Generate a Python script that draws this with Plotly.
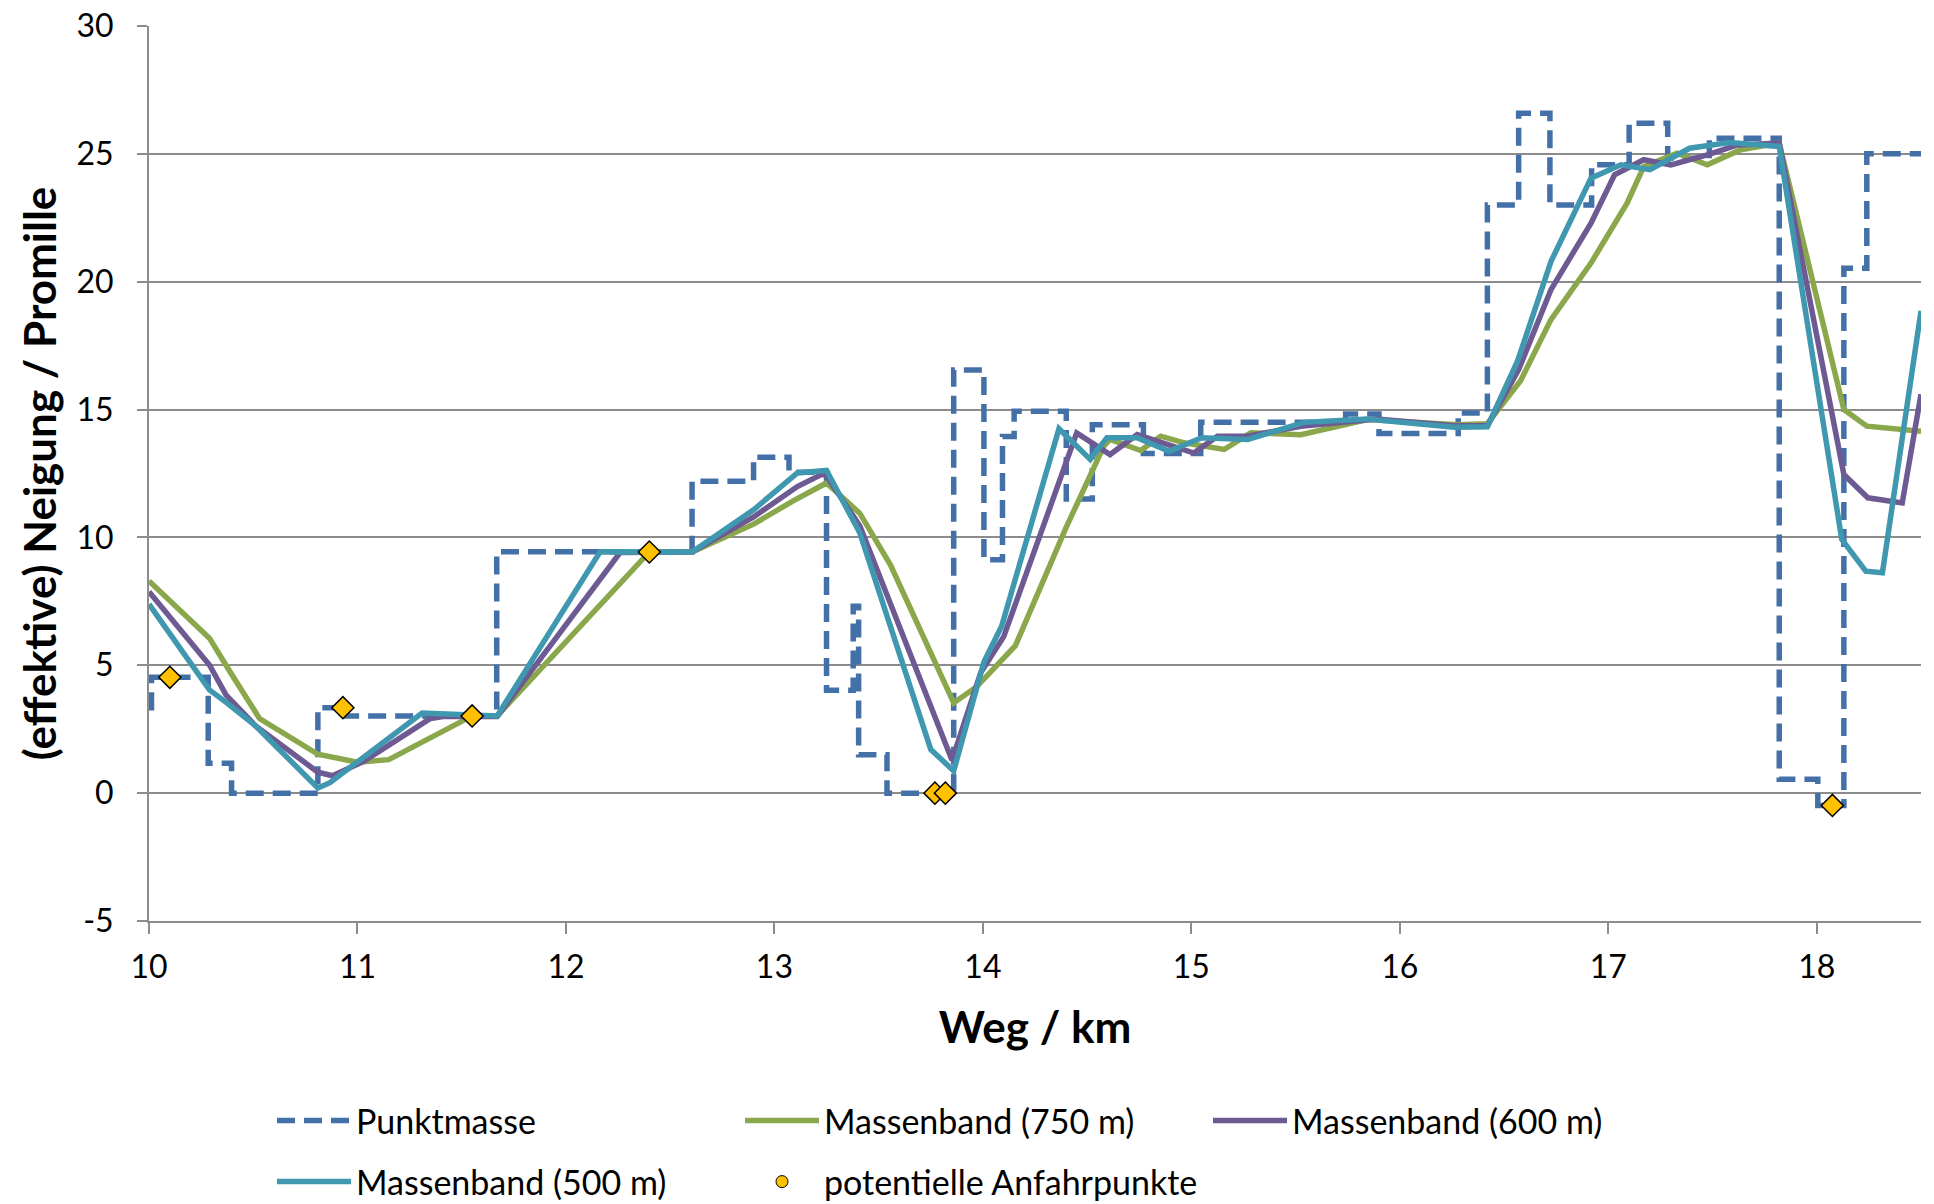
import plotly.graph_objects as go

# ---- Punktmasse (step profile): change points, value holds until next x ----
pm_x = [10.0, 10.012, 10.284, 10.396, 10.81, 10.948, 11.668, 12.605, 12.90, 13.07,
        13.25, 13.378, 13.404, 13.54, 13.86, 14.005, 14.094, 14.15, 14.40, 14.525,
        14.77, 15.045, 15.74, 15.90, 16.28, 16.42, 16.57, 16.72, 16.92, 17.10,
        17.285, 17.485, 17.82, 18.005, 18.13, 18.24, 18.5]
pm_y = [3.34, 4.53, 1.17, 0.0, 3.34, 3.02, 9.44, 12.2, 13.14, 12.55,
        4.02, 7.31, 1.5, 0.0, 16.55, 9.13, 13.95, 14.93, 11.5, 14.41,
        13.28, 14.5, 14.83, 14.06, 14.87, 23.0, 26.59, 23.0, 24.57, 26.2,
        24.83, 25.61, 0.54, -0.48, 20.53, 25.0, 25.0]

# ---- Massenband (750 m) ----
mb750_x = [10.0, 10.29, 10.39, 10.53, 10.81, 11.0, 11.15, 11.55, 11.67, 12.40,
           12.605, 12.90, 13.09, 13.25, 13.41, 13.557, 13.86, 13.97, 14.156, 14.40,
           14.58, 14.61, 14.757, 14.853, 14.965, 15.157, 15.285, 15.525, 15.845, 16.277,
           16.42, 16.58, 16.725, 16.917, 17.09, 17.17, 17.33, 17.475, 17.635, 17.82,
           18.13, 18.24, 18.5]
mb750_y = [8.30, 6.06, 4.73, 2.92, 1.52, 1.21, 1.31, 3.02, 3.02, 9.43,
           9.43, 10.52, 11.43, 12.13, 10.94, 8.92, 3.53, 4.16, 5.77, 10.4,
           13.57, 13.83, 13.4, 13.96, 13.70, 13.44, 14.09, 14.02, 14.61, 14.41,
           14.45, 16.14, 18.52, 20.73, 23.07, 24.5, 25.03, 24.57, 25.16, 25.42,
           15.0, 14.35, 14.15]

# ---- Massenband (600 m) ----
mb600_x = [10.0, 10.29, 10.37, 10.51, 10.81, 10.88, 11.03, 11.35, 11.41, 11.67,
           12.26, 12.605, 12.90, 13.11, 13.23, 13.25, 13.41, 13.852, 13.99, 14.10,
           14.45, 14.61, 14.74, 15.012, 15.125, 15.27, 15.525, 15.89, 16.26, 16.42,
           16.57, 16.725, 16.917, 17.03, 17.17, 17.30, 17.475, 17.62, 17.82, 18.13,
           18.245, 18.41, 18.5]
mb600_y = [7.88, 5.01, 3.83, 2.64, 0.82, 0.68, 1.24, 2.92, 3.0, 3.0,
           9.41, 9.43, 10.8, 11.99, 12.48, 12.4, 10.45, 1.29, 4.72, 6.12,
           14.09, 13.24, 14.02, 13.3, 13.96, 13.96, 14.35, 14.63, 14.37, 14.37,
           16.56, 19.69, 22.29, 24.18, 24.77, 24.57, 24.96, 25.35, 25.42, 12.46,
           11.55, 11.35, 15.6]

# ---- Massenband (500 m) ----
mb500_x = [10.0, 10.29, 10.37, 10.51, 10.81, 10.868, 11.31, 11.67, 12.164, 12.605,
           12.90, 13.11, 13.25, 13.41, 13.75, 13.86, 14.005, 14.09, 14.365, 14.515,
           14.595, 14.74, 14.893, 15.05, 15.27, 15.54, 15.845, 16.26, 16.42, 16.565,
           16.725, 16.917, 17.06, 17.20, 17.39, 17.58, 17.82, 18.12, 18.235, 18.315,
           18.5]
mb500_y = [7.39, 4.04, 3.55, 2.64, 0.2, 0.41, 3.13, 3.02, 9.44, 9.43,
           11.08, 12.52, 12.62, 10.17, 1.71, 0.87, 5.13, 6.53, 14.25, 13.05,
           13.9, 13.9, 13.37, 13.9, 13.83, 14.5, 14.63, 14.31, 14.33, 16.9,
           20.79, 24.05, 24.57, 24.38, 25.22, 25.44, 25.29, 9.92, 8.68, 8.62,
           18.86]

# ---- potentielle Anfahrpunkte ----
ap_x = [10.10, 10.93, 11.55, 12.40, 13.77, 13.82, 18.075]
ap_y = [4.53, 3.34, 3.02, 9.43, 0.0, 0.0, -0.48]

x_ticks = [10, 11, 12, 13, 14, 15, 16, 17, 18]
y_ticks = [-5, 0, 5, 10, 15, 20, 25, 30]

C_PM = "#4470A8"
C_750 = "#8AA84B"
C_600 = "#6E5A93"
C_500 = "#3F98B0"
C_AP = "#FFC000"
GRID = "#8C8C8C"
FONT = "Lato"
LW = 5.5

fig = go.Figure()
fig.add_trace(go.Scatter(x=pm_x, y=pm_y, mode="lines", name="Punktmasse",
                         line=dict(color=C_PM, width=LW, dash="18px,9px", shape="hv"),
                         legend="legend"))
fig.add_trace(go.Scatter(x=mb750_x, y=mb750_y, mode="lines", name="Massenband (750 m)",
                         line=dict(color=C_750, width=LW), legend="legend"))
fig.add_trace(go.Scatter(x=mb600_x, y=mb600_y, mode="lines", name="Massenband (600 m)",
                         line=dict(color=C_600, width=LW), legend="legend"))
fig.add_trace(go.Scatter(x=mb500_x, y=mb500_y, mode="lines", name="Massenband (500 m)",
                         line=dict(color=C_500, width=LW), legend="legend2"))
fig.add_trace(go.Scatter(x=ap_x, y=ap_y, mode="markers", name="potentielle Anfahrpunkte",
                         marker=dict(symbol="diamond", size=17, color=C_AP,
                                     line=dict(color="black", width=1.5)),
                         showlegend=False))
# legend entry only (Excel shows a round marker in the legend)
fig.add_trace(go.Scatter(x=[None], y=[None], mode="markers", name="potentielle Anfahrpunkte",
                         marker=dict(symbol="circle", size=12, color=C_AP,
                                     line=dict(color="black", width=1)),
                         legend="legend2"))

W, H = 1934, 1204
L, R, T, B = 149, 13, 26, 283
pw, ph = W - L - R, H - T - B

def px_to_paper_x(px):
    return (px - L) / pw

def py_to_paper_y(py):
    return (H - B - py) / ph

fig.update_layout(
    width=W, height=H,
    margin=dict(l=L, r=R, t=T, b=B, autoexpand=False),
    paper_bgcolor="white", plot_bgcolor="white",
    font=dict(family=FONT, size=32, color="black"),
    xaxis=dict(range=[10, 18.5], tickvals=x_ticks, ticktext=[str(v) for v in x_ticks],
               showgrid=False, zeroline=False, showline=True, linecolor=GRID, linewidth=2,
               ticks="outside", ticklen=11, tickwidth=2, tickcolor=GRID,
               ticklabelstandoff=6, tickfont=dict(size=32),
               title=dict(text="<b>Weg / km</b>", font=dict(size=44), standoff=28),
               automargin=False),
    yaxis=dict(range=[-5, 30], tickvals=y_ticks, ticktext=[str(v) for v in y_ticks],
               showgrid=True, gridcolor=GRID, gridwidth=2, zeroline=False,
               showline=True, linecolor=GRID, linewidth=2,
               ticks="outside", ticklen=10, tickwidth=2, tickcolor=GRID,
               ticklabelstandoff=17, tickfont=dict(size=32),
               title=dict(text="<b>(effektive) Neigung / Promille</b>", font=dict(size=44),
                          standoff=6),
               automargin=False),
    legend=dict(orientation="h", x=px_to_paper_x(272), xanchor="left",
                y=py_to_paper_y(1121), yanchor="middle", entrywidth=379,
                font=dict(size=34), bgcolor="rgba(0,0,0,0)", itemwidth=74),
    legend2=dict(orientation="h", x=px_to_paper_x(272), xanchor="left",
                 y=py_to_paper_y(1182), yanchor="middle", entrywidth=379,
                 font=dict(size=34), bgcolor="rgba(0,0,0,0)", itemwidth=74),
)

fig.write_html("out.html", config={"displayModeBar": False},
               post_script="document.body.style.margin='0px';")
